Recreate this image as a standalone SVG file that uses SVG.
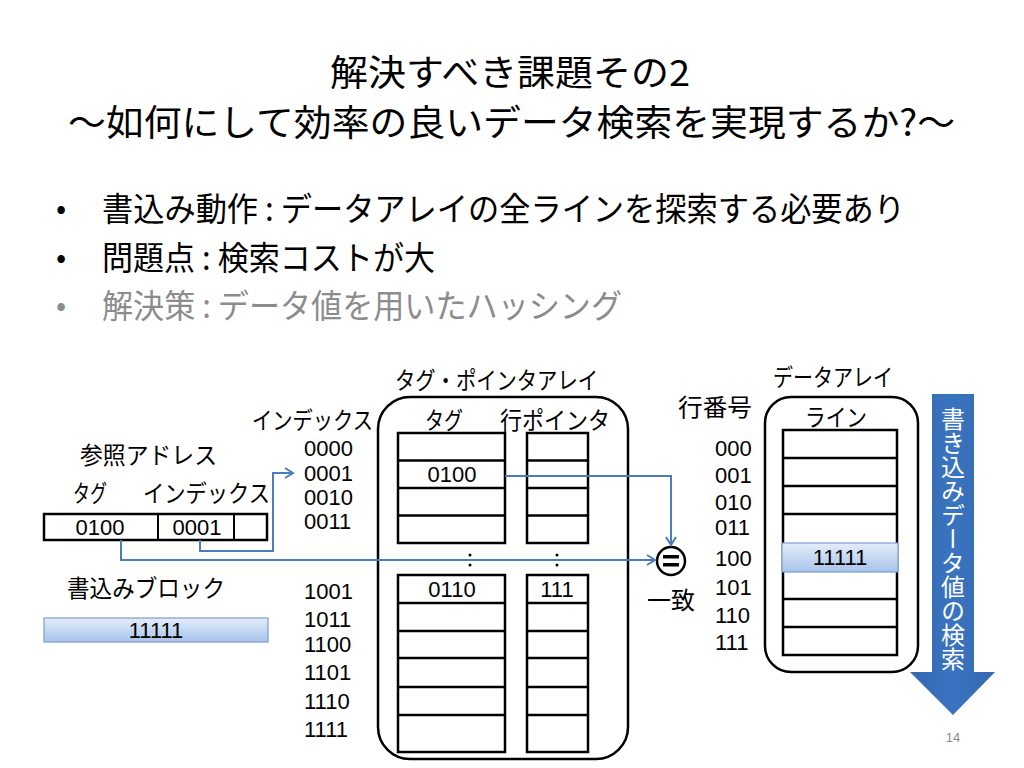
<svg xmlns="http://www.w3.org/2000/svg" width="1024" height="768" viewBox="0 0 1024 768">
<defs>
<style>
.jp{font-family:"Noto Sans CJK JP","Liberation Sans",sans-serif;fill:#000}
.lbl{font-size:24px}
.num{font-family:"Liberation Sans","Noto Sans CJK JP",sans-serif;font-size:22px;fill:#000}
.box{fill:#fff;stroke:#000;stroke-width:2.5}
.grp{fill:none;stroke:#000;stroke-width:2.5}
.conn{fill:none;stroke:#4a7ebb;stroke-width:2}
.hl{fill:url(#lb);stroke:#7b9dd0;stroke-width:1.2}
.rl{stroke:#000;stroke-width:2.5}
</style>
<linearGradient id="lb" x1="0" y1="0" x2="0" y2="1">
<stop offset="0" stop-color="#e4edf9"/>
<stop offset="1" stop-color="#a8c3ea"/>
</linearGradient>
<linearGradient id="ab" x1="0" y1="0" x2="1" y2="0">
<stop offset="0" stop-color="#3468b0"/>
<stop offset="0.5" stop-color="#3a74c0"/>
<stop offset="1" stop-color="#3468b0"/>
</linearGradient>
<marker id="arr" markerUnits="userSpaceOnUse" markerWidth="14" markerHeight="14" refX="10" refY="6" orient="auto">
<path d="M2,1 L10,6 L2,11" fill="none" stroke="#4a7ebb" stroke-width="2"/>
</marker>
</defs>
<rect width="1024" height="768" fill="#fff"/>

<g id="title">
<text class="jp" x="330" y="86" font-size="36" textLength="360" lengthAdjust="spacingAndGlyphs">解決すべき課題その2</text>
<text class="jp" x="68" y="136" font-size="36" textLength="887" lengthAdjust="spacingAndGlyphs">～如何にして効率の良いデータ検索を実現するか?～</text>
</g>

<g id="bullets">
<text class="jp" x="56" y="219" font-size="30">•</text>
<text class="jp" x="102" y="221" font-size="33" textLength="803" lengthAdjust="spacingAndGlyphs">書込み動作 : データアレイの全ラインを探索する必要あり</text>
<text class="jp" x="56" y="268" font-size="30">•</text>
<text class="jp" x="102" y="270" font-size="33" textLength="333" lengthAdjust="spacingAndGlyphs">問題点 : 検索コストが大</text>
<text class="jp" x="56" y="316" font-size="30" style="fill:#8c8c8c">•</text>
<text class="jp" x="102" y="318" font-size="33" textLength="520" lengthAdjust="spacingAndGlyphs" style="fill:#8c8c8c">解決策 : データ値を用いたハッシング</text>
</g>

<g id="address">
<text class="jp lbl" x="80" y="464" textLength="137" lengthAdjust="spacingAndGlyphs">参照アドレス</text>
<text class="jp lbl" x="73" y="502" textLength="34" lengthAdjust="spacingAndGlyphs">タグ</text>
<text class="jp lbl" x="143" y="502" textLength="127" lengthAdjust="spacingAndGlyphs">インデックス</text>
<rect class="box" x="44" y="514" width="223" height="26"/>
<line x1="158" y1="514" x2="158" y2="540" stroke="#000" stroke-width="2"/>
<line x1="234" y1="514" x2="234" y2="540" stroke="#000" stroke-width="2"/>
<text class="num" x="100" y="535" text-anchor="middle">0100</text>
<text class="num" x="197" y="535" text-anchor="middle">0001</text>
</g>

<g id="write-block">
<text class="jp lbl" x="67" y="597" textLength="158" lengthAdjust="spacingAndGlyphs">書込みブロック</text>
<rect class="hl" x="44" y="618" width="224" height="24"/>
<text class="num" x="156" y="638" text-anchor="middle">11111</text>
</g>

<g id="index-labels">
<text class="jp lbl" x="252" y="429" textLength="121" lengthAdjust="spacingAndGlyphs">インデックス</text>
<text class="num" x="304" y="456">0000</text>
<text class="num" x="304" y="481">0001</text>
<text class="num" x="304" y="505">0010</text>
<text class="num" x="304" y="529">0011</text>
<text class="num" x="304" y="599">1001</text>
<text class="num" x="304" y="627">1011</text>
<text class="num" x="304" y="652">1100</text>
<text class="num" x="304" y="680">1101</text>
<text class="num" x="304" y="709">1110</text>
<text class="num" x="304" y="737">1111</text>
</g>

<g id="tag-pointer-array">
<text class="jp lbl" x="395" y="389" textLength="203" lengthAdjust="spacingAndGlyphs">タグ・ポインタアレイ</text>
<rect class="grp" x="378" y="397" width="250" height="362" rx="32" ry="32"/>
<text class="jp lbl" x="425" y="429" textLength="38" lengthAdjust="spacingAndGlyphs">タグ</text>
<text class="jp lbl" x="500" y="429" textLength="110" lengthAdjust="spacingAndGlyphs">行ポインタ</text>
<rect class="box" x="398" y="433" width="107" height="110"/>
<line class="rl" x1="398" y1="460.5" x2="505" y2="460.5"/>
<line class="rl" x1="398" y1="488" x2="505" y2="488"/>
<line class="rl" x1="398" y1="515.5" x2="505" y2="515.5"/>
<rect class="box" x="527" y="433" width="61" height="110"/>
<line class="rl" x1="527" y1="460.5" x2="588" y2="460.5"/>
<line class="rl" x1="527" y1="488" x2="588" y2="488"/>
<line class="rl" x1="527" y1="515.5" x2="588" y2="515.5"/>
<text class="num" x="452" y="482" text-anchor="middle">0100</text>
<circle cx="470" cy="555" r="1.5" fill="#000"/>
<circle cx="470" cy="565" r="1.5" fill="#000"/>
<circle cx="557" cy="555" r="1.5" fill="#000"/>
<circle cx="557" cy="565" r="1.5" fill="#000"/>
<rect class="box" x="398" y="575" width="107" height="177"/>
<line class="rl" x1="398" y1="603" x2="505" y2="603"/>
<line class="rl" x1="398" y1="631" x2="505" y2="631"/>
<line class="rl" x1="398" y1="658" x2="505" y2="658"/>
<line class="rl" x1="398" y1="687" x2="505" y2="687"/>
<line class="rl" x1="398" y1="715" x2="505" y2="715"/>
<rect class="box" x="527" y="575" width="61" height="177"/>
<line class="rl" x1="527" y1="603" x2="588" y2="603"/>
<line class="rl" x1="527" y1="631" x2="588" y2="631"/>
<line class="rl" x1="527" y1="658" x2="588" y2="658"/>
<line class="rl" x1="527" y1="687" x2="588" y2="687"/>
<line class="rl" x1="527" y1="715" x2="588" y2="715"/>
<text class="num" x="452" y="597" text-anchor="middle">0110</text>
<text class="num" x="557" y="597" text-anchor="middle">111</text>
</g>

<g id="comparator">
<circle cx="671" cy="561" r="14" fill="#fff" stroke="#000" stroke-width="2.5"/>
<rect x="663" y="555" width="16" height="3.5" fill="#000"/>
<rect x="663" y="563" width="16" height="3.5" fill="#000"/>
<text class="jp lbl" x="647" y="609" textLength="48" lengthAdjust="spacingAndGlyphs">一致</text>
</g>

<g id="data-array">
<text class="jp lbl" x="678" y="416" textLength="74" lengthAdjust="spacingAndGlyphs">行番号</text>
<text class="jp lbl" x="773" y="386" textLength="120" lengthAdjust="spacingAndGlyphs">データアレイ</text>
<rect class="grp" x="765" y="397" width="153" height="275" rx="26" ry="26"/>
<text class="jp lbl" x="805" y="426" textLength="62" lengthAdjust="spacingAndGlyphs">ライン</text>
<rect class="box" x="783" y="430" width="114" height="225"/>
<line class="rl" x1="783" y1="458" x2="897" y2="458"/>
<line class="rl" x1="783" y1="486" x2="897" y2="486"/>
<line class="rl" x1="783" y1="514" x2="897" y2="514"/>
<line class="rl" x1="783" y1="599" x2="897" y2="599"/>
<line class="rl" x1="783" y1="627" x2="897" y2="627"/>
<rect class="hl" x="782" y="543" width="116" height="29"/>
<text class="num" x="840" y="565" text-anchor="middle">11111</text>
<text class="num" x="715" y="456">000</text>
<text class="num" x="715" y="483">001</text>
<text class="num" x="715" y="510">010</text>
<text class="num" x="715" y="535">011</text>
<text class="num" x="715" y="566">100</text>
<text class="num" x="715" y="595">101</text>
<text class="num" x="715" y="623">110</text>
<text class="num" x="715" y="650">111</text>
</g>

<g id="search-arrow">
<path d="M932,394 L974,394 L974,672 L995,672 L953,715 L910,672 L932,672 Z" fill="url(#ab)"/>
<text x="953" y="407" font-family="Noto Sans CJK JP, sans-serif" font-size="24" fill="#fff" style="writing-mode:vertical-rl">書き込みデータ値の検索</text>
</g>

<g id="connectors">
<polyline class="conn" points="200,540 200,551 273,551 273,473 293,473" marker-end="url(#arr)"/>
<polyline class="conn" points="121,540 121,560 655,560" marker-end="url(#arr)"/>
<polyline class="conn" points="505,476 671,476 671,545" marker-end="url(#arr)"/>
</g>

<text x="953" y="742" font-family="Liberation Sans, sans-serif" font-size="13" fill="#8c8c8c" text-anchor="middle">14</text>
</svg>
